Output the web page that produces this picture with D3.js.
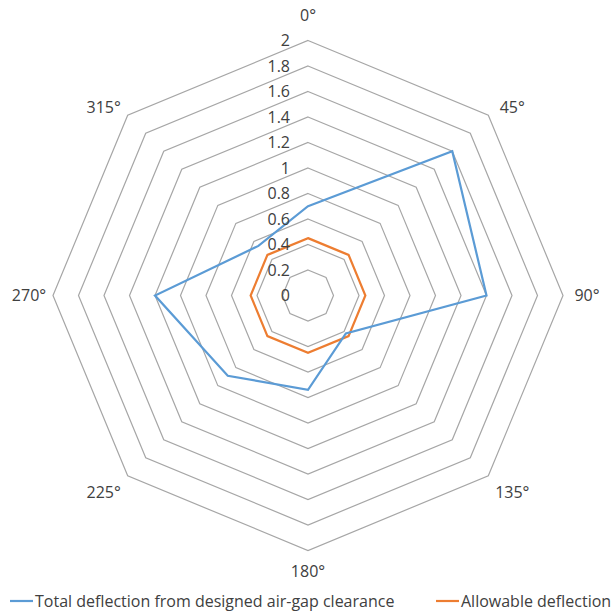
<!DOCTYPE html>
<html>
<head>
<meta charset="utf-8">
<script src="https://cdn.jsdelivr.net/npm/d3@7/dist/d3.min.js"></script>
<style>
  html, body { margin: 0; padding: 0; background: #fff; }
  svg { display: block; }
  text { font-family: "Open Sans", "Liberation Sans", sans-serif; fill: #404040; }
</style>
</head>
<body>
<svg id="chart" width="615" height="615"></svg>
<script>
// Directions around the radar (degrees)
const directions = ["0°", "45°", "90°", "135°", "180°", "225°", "270°", "315°"];
// Total deflection from designed air-gap clearance
const totalDeflection = [0.70, 1.60, 1.40, 0.42, 0.74, 0.89, 1.20, 0.55];
// Allowable deflection
const allowableDeflection = [0.45, 0.45, 0.45, 0.45, 0.45, 0.45, 0.45, 0.45];
// Radial tick values and their labels
const radialTicks = [0, 0.2, 0.4, 0.6, 0.8, 1.0, 1.2, 1.4, 1.6, 1.8, 2.0];
const radialTickLabels = ["0", "0.2", "0.4", "0.6", "0.8", "1", "1.2", "1.4", "1.6", "1.8", "2"];
const seriesNames = ["Total deflection from designed air-gap clearance", "Allowable deflection"];

const svg = d3.select("#chart");
const cx = 308, cy = 295.5, R = 255;
const gridColor = "#a6a6a6";
const colors = ["#5b9bd5", "#ed7d31"];
const fontSize = 16;

const r = d3.scaleLinear().domain([0, 2]).range([0, R]);
// Each direction gets an equal share of the full turn, 0° at the top, clockwise
const step = 2 * Math.PI / directions.length;
const ang = d => directions.indexOf(d) * step;

const g = svg.append("g").attr("transform", `translate(${cx},${cy})`);

const radarLine = d3.lineRadial()
  .angle(d => ang(d.dir))
  .radius(d => r(d.v))
  .curve(d3.curveLinearClosed);

// Concentric octagonal grid rings
g.append("g").selectAll("path")
  .data(radialTicks.filter(t => t > 0))
  .join("path")
  .attr("d", t => radarLine(directions.map(dir => ({ dir, v: t }))))
  .attr("fill", "none")
  .attr("stroke", gridColor)
  .attr("stroke-width", 1.2);

// Series polygons (allowable drawn first, total on top)
const series = [totalDeflection, allowableDeflection];
g.append("g").selectAll("path")
  .data(series.map((vals, i) => ({ vals, i })).reverse())
  .join("path")
  .attr("d", s => radarLine(directions.map((dir, k) => ({ dir, v: s.vals[k] }))))
  .attr("fill", "none")
  .attr("stroke", s => colors[s.i])
  .attr("stroke-width", 2.2)
  .attr("stroke-linejoin", "miter");

// Radial tick labels along the 0° axis
g.append("g").selectAll("text")
  .data(radialTicks)
  .join("text")
  .attr("x", -18)
  .attr("y", t => -r(t))
  .attr("dy", "0.35em")
  .attr("text-anchor", "end")
  .attr("font-size", fontSize)
  .text((t, i) => radialTickLabels[i]);

// Direction labels outside the outer ring
g.append("g").selectAll("text")
  .data(directions)
  .join("text")
  .attr("x", d => {
    const s = Math.sin(ang(d));
    return r(2) * s + (Math.abs(s) < 0.1 ? 0 : Math.sign(s) * 24);
  })
  .attr("y", d => {
    const c = Math.cos(ang(d));
    const off = c > 0.9 ? -25 : c > 0.1 ? -8 : c < -0.9 ? 21 : c < -0.1 ? 17 : 0;
    return -r(2) * c + off;
  })
  .attr("dy", "0.35em")
  .attr("text-anchor", "middle")
  .attr("font-size", fontSize)
  .text(d => d);

// Legend
const legendY = 601;
const legend = svg.append("g");
const legendX = [10, 436];
seriesNames.forEach((name, i) => {
  legend.append("line")
    .attr("x1", legendX[i]).attr("x2", legendX[i] + 23)
    .attr("y1", legendY).attr("y2", legendY)
    .attr("stroke", colors[i]).attr("stroke-width", 2.2);
  legend.append("text")
    .attr("x", legendX[i] + 25)
    .attr("y", legendY)
    .attr("dy", "0.35em")
    .attr("font-size", fontSize)
    .text(name);
});
</script>
</body>
</html>
